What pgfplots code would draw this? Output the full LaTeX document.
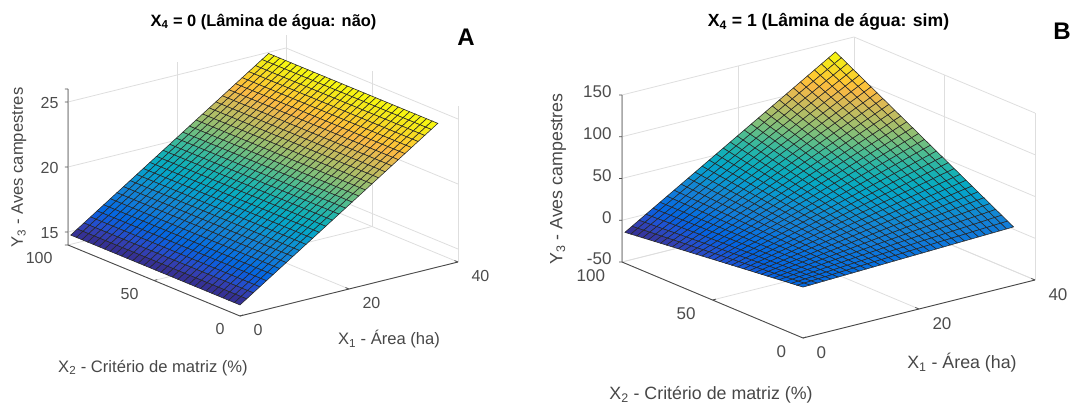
\documentclass[border=0pt]{standalone}
\usepackage{pgfplots}
\pgfplotsset{compat=1.18}
\usepackage{pgfplotstable}
\usepackage{fontspec}
\setmainfont{Liberation Sans}
\pgfplotsset{
  colormap={parula}{
    rgb=(0.2081,0.1663,0.5292) rgb=(0.2081,0.2386,0.6771) rgb=(0.1253,0.3242,0.8303) rgb=(0.0117,0.3875,0.8820)
    rgb=(0.0329,0.4430,0.8720) rgb=(0.0723,0.4887,0.8467) rgb=(0.0793,0.5200,0.8312) rgb=(0.0488,0.5772,0.8228)
    rgb=(0.0239,0.6287,0.8038) rgb=(0.0267,0.6642,0.7607) rgb=(0.0843,0.6928,0.7062) rgb=(0.1801,0.7177,0.6424)
    rgb=(0.3022,0.7376,0.5712) rgb=(0.4420,0.7481,0.5033) rgb=(0.5709,0.7485,0.4494) rgb=(0.6834,0.7435,0.4044)
    rgb=(0.7858,0.7356,0.3633) rgb=(0.8824,0.7274,0.3217) rgb=(0.9739,0.7314,0.2666) rgb=(0.9955,0.7861,0.1967)
    rgb=(0.9697,0.8481,0.1475) rgb=(0.9598,0.9218,0.0948) rgb=(0.9763,0.9831,0.0538)
  },
  panel/.style={
    colormap name=parula,
    /pgf/number format/assume math mode=true,
    xmin=0,xmax=40,ymin=0,ymax=100,
    xtick={0,20,40},ytick={0,50,100},
    grid=major,
    major grid style={black!13,line width=0.8pt},
    axis line style={draw=none},
    major tick length=0pt,
    ticklabel style={text=black!70},
    label style={text=black!72},
    clip=false,
  },
}
\pgfplotstableread{
x y za zb
0 0 14.85 11
0 3.28 14.85 10.2
0 6.56 14.85 9.4
0 9.84 14.85 8.6
0 13.12 14.85 7.8
0 16.4 14.85 7
0 19.68 14.85 6.2
0 22.96 14.85 5.4
0 26.24 14.85 4.6
0 29.52 14.85 3.8
0 32.8 14.85 3
0 36.08 14.85 2.2
0 39.36 14.85 1.4
0 42.64 14.85 0.6
0 45.92 14.85 -0.2
0 49.2 14.85 -1
0 52.48 14.85 -1.8
0 55.76 14.85 -2.6
0 59.04 14.85 -3.4
0 62.32 14.85 -4.2
0 65.6 14.85 -5
0 68.88 14.85 -5.8
0 72.16 14.85 -6.6
0 75.44 14.85 -7.4
0 78.72 14.85 -8.2
0 82 14.85 -9
0 85.28 14.85 -9.8
0 88.56 14.85 -10.6
0 91.84 14.85 -11.4
0 95.12 14.85 -12.2
0 98.4 14.85 -13
1.21 0 15.19 11.3
1.21 3.28 15.19 10.7
1.21 6.56 15.19 10
1.21 9.84 15.19 9.4
1.21 13.12 15.19 8.7
1.21 16.4 15.19 8.1
1.21 19.68 15.19 7.5
1.21 22.96 15.19 6.8
1.21 26.24 15.19 6.2
1.21 29.52 15.19 5.5
1.21 32.8 15.19 4.9
1.21 36.08 15.19 4.3
1.21 39.36 15.19 3.6
1.21 42.64 15.19 3
1.21 45.92 15.19 2.3
1.21 49.2 15.19 1.7
1.21 52.48 15.19 1.1
1.21 55.76 15.19 0.4
1.21 59.04 15.19 -0.2
1.21 62.32 15.19 -0.9
1.21 65.6 15.19 -1.5
1.21 68.88 15.19 -2.1
1.21 72.16 15.19 -2.8
1.21 75.44 15.19 -3.4
1.21 78.72 15.19 -4.1
1.21 82 15.19 -4.7
1.21 85.28 15.19 -5.3
1.21 88.56 15.19 -6
1.21 91.84 15.19 -6.6
1.21 95.12 15.19 -7.3
1.21 98.4 15.19 -7.9
2.42 0 15.53 11.6
2.42 3.28 15.53 11.1
2.42 6.56 15.53 10.6
2.42 9.84 15.53 10.2
2.42 13.12 15.53 9.7
2.42 16.4 15.53 9.2
2.42 19.68 15.53 8.7
2.42 22.96 15.53 8.2
2.42 26.24 15.53 7.8
2.42 29.52 15.53 7.3
2.42 32.8 15.53 6.8
2.42 36.08 15.53 6.3
2.42 39.36 15.53 5.8
2.42 42.64 15.53 5.4
2.42 45.92 15.53 4.9
2.42 49.2 15.53 4.4
2.42 52.48 15.53 3.9
2.42 55.76 15.53 3.4
2.42 59.04 15.53 3
2.42 62.32 15.53 2.5
2.42 65.6 15.53 2
2.42 68.88 15.53 1.5
2.42 72.16 15.53 1
2.42 75.44 15.53 0.6
2.42 78.72 15.53 0.1
2.42 82 15.53 -0.4
2.42 85.28 15.53 -0.9
2.42 88.56 15.53 -1.4
2.42 91.84 15.53 -1.8
2.42 95.12 15.53 -2.3
2.42 98.4 15.53 -2.8
3.63 0 15.87 11.9
3.63 3.28 15.87 11.6
3.63 6.56 15.87 11.3
3.63 9.84 15.87 10.9
3.63 13.12 15.87 10.6
3.63 16.4 15.87 10.3
3.63 19.68 15.87 10
3.63 22.96 15.87 9.7
3.63 26.24 15.87 9.3
3.63 29.52 15.87 9
3.63 32.8 15.87 8.7
3.63 36.08 15.87 8.4
3.63 39.36 15.87 8.1
3.63 42.64 15.87 7.7
3.63 45.92 15.87 7.4
3.63 49.2 15.87 7.1
3.63 52.48 15.87 6.8
3.63 55.76 15.87 6.5
3.63 59.04 15.87 6.1
3.63 62.32 15.87 5.8
3.63 65.6 15.87 5.5
3.63 68.88 15.87 5.2
3.63 72.16 15.87 4.9
3.63 75.44 15.87 4.5
3.63 78.72 15.87 4.2
3.63 82 15.87 3.9
3.63 85.28 15.87 3.6
3.63 88.56 15.87 3.3
3.63 91.84 15.87 2.9
3.63 95.12 15.87 2.6
3.63 98.4 15.87 2.3
4.84 0 16.21 12.2
4.84 3.28 16.21 12
4.84 6.56 16.21 11.9
4.84 9.84 16.21 11.7
4.84 13.12 16.21 11.6
4.84 16.4 16.21 11.4
4.84 19.68 16.21 11.2
4.84 22.96 16.21 11.1
4.84 26.24 16.21 10.9
4.84 29.52 16.21 10.8
4.84 32.8 16.21 10.6
4.84 36.08 16.21 10.4
4.84 39.36 16.21 10.3
4.84 42.64 16.21 10.1
4.84 45.92 16.21 10
4.84 49.2 16.21 9.8
4.84 52.48 16.21 9.6
4.84 55.76 16.21 9.5
4.84 59.04 16.21 9.3
4.84 62.32 16.21 9.2
4.84 65.6 16.21 9
4.84 68.88 16.21 8.8
4.84 72.16 16.21 8.7
4.84 75.44 16.21 8.5
4.84 78.72 16.21 8.4
4.84 82 16.21 8.2
4.84 85.28 16.21 8
4.84 88.56 16.21 7.9
4.84 91.84 16.21 7.7
4.84 95.12 16.21 7.6
4.84 98.4 16.21 7.4
6.05 0 16.55 12.5
6.05 3.28 16.55 12.5
6.05 6.56 16.55 12.5
6.05 9.84 16.55 12.5
6.05 13.12 16.55 12.5
6.05 16.4 16.55 12.5
6.05 19.68 16.55 12.5
6.05 22.96 16.55 12.5
6.05 26.24 16.55 12.5
6.05 29.52 16.55 12.5
6.05 32.8 16.55 12.5
6.05 36.08 16.55 12.5
6.05 39.36 16.55 12.5
6.05 42.64 16.55 12.5
6.05 45.92 16.55 12.5
6.05 49.2 16.55 12.5
6.05 52.48 16.55 12.5
6.05 55.76 16.55 12.5
6.05 59.04 16.55 12.5
6.05 62.32 16.55 12.5
6.05 65.6 16.55 12.5
6.05 68.88 16.55 12.5
6.05 72.16 16.55 12.5
6.05 75.44 16.55 12.5
6.05 78.72 16.55 12.5
6.05 82 16.55 12.5
6.05 85.28 16.55 12.5
6.05 88.56 16.55 12.5
6.05 91.84 16.55 12.5
6.05 95.12 16.55 12.5
6.05 98.4 16.55 12.5
7.26 0 16.89 12.8
7.26 3.28 16.89 13
7.26 6.56 16.89 13.1
7.26 9.84 16.89 13.3
7.26 13.12 16.89 13.4
7.26 16.4 16.89 13.6
7.26 19.68 16.89 13.8
7.26 22.96 16.89 13.9
7.26 26.24 16.89 14.1
7.26 29.52 16.89 14.2
7.26 32.8 16.89 14.4
7.26 36.08 16.89 14.6
7.26 39.36 16.89 14.7
7.26 42.64 16.89 14.9
7.26 45.92 16.89 15
7.26 49.2 16.89 15.2
7.26 52.48 16.89 15.4
7.26 55.76 16.89 15.5
7.26 59.04 16.89 15.7
7.26 62.32 16.89 15.8
7.26 65.6 16.89 16
7.26 68.88 16.89 16.2
7.26 72.16 16.89 16.3
7.26 75.44 16.89 16.5
7.26 78.72 16.89 16.6
7.26 82 16.89 16.8
7.26 85.28 16.89 17
7.26 88.56 16.89 17.1
7.26 91.84 16.89 17.3
7.26 95.12 16.89 17.4
7.26 98.4 16.89 17.6
8.47 0 17.23 13.1
8.47 3.28 17.23 13.4
8.47 6.56 17.23 13.7
8.47 9.84 17.23 14.1
8.47 13.12 17.23 14.4
8.47 16.4 17.23 14.7
8.47 19.68 17.23 15
8.47 22.96 17.23 15.3
8.47 26.24 17.23 15.7
8.47 29.52 17.23 16
8.47 32.8 17.23 16.3
8.47 36.08 17.23 16.6
8.47 39.36 17.23 16.9
8.47 42.64 17.23 17.3
8.47 45.92 17.23 17.6
8.47 49.2 17.23 17.9
8.47 52.48 17.23 18.2
8.47 55.76 17.23 18.5
8.47 59.04 17.23 18.9
8.47 62.32 17.23 19.2
8.47 65.6 17.23 19.5
8.47 68.88 17.23 19.8
8.47 72.16 17.23 20.1
8.47 75.44 17.23 20.5
8.47 78.72 17.23 20.8
8.47 82 17.23 21.1
8.47 85.28 17.23 21.4
8.47 88.56 17.23 21.7
8.47 91.84 17.23 22.1
8.47 95.12 17.23 22.4
8.47 98.4 17.23 22.7
9.68 0 17.57 13.4
9.68 3.28 17.57 13.9
9.68 6.56 17.57 14.4
9.68 9.84 17.57 14.8
9.68 13.12 17.57 15.3
9.68 16.4 17.57 15.8
9.68 19.68 17.57 16.3
9.68 22.96 17.57 16.8
9.68 26.24 17.57 17.2
9.68 29.52 17.57 17.7
9.68 32.8 17.57 18.2
9.68 36.08 17.57 18.7
9.68 39.36 17.57 19.2
9.68 42.64 17.57 19.6
9.68 45.92 17.57 20.1
9.68 49.2 17.57 20.6
9.68 52.48 17.57 21.1
9.68 55.76 17.57 21.6
9.68 59.04 17.57 22
9.68 62.32 17.57 22.5
9.68 65.6 17.57 23
9.68 68.88 17.57 23.5
9.68 72.16 17.57 24
9.68 75.44 17.57 24.4
9.68 78.72 17.57 24.9
9.68 82 17.57 25.4
9.68 85.28 17.57 25.9
9.68 88.56 17.57 26.4
9.68 91.84 17.57 26.8
9.68 95.12 17.57 27.3
9.68 98.4 17.57 27.8
10.89 0 17.91 13.7
10.89 3.28 17.91 14.3
10.89 6.56 17.91 15
10.89 9.84 17.91 15.6
10.89 13.12 17.91 16.3
10.89 16.4 17.91 16.9
10.89 19.68 17.91 17.5
10.89 22.96 17.91 18.2
10.89 26.24 17.91 18.8
10.89 29.52 17.91 19.5
10.89 32.8 17.91 20.1
10.89 36.08 17.91 20.7
10.89 39.36 17.91 21.4
10.89 42.64 17.91 22
10.89 45.92 17.91 22.7
10.89 49.2 17.91 23.3
10.89 52.48 17.91 23.9
10.89 55.76 17.91 24.6
10.89 59.04 17.91 25.2
10.89 62.32 17.91 25.9
10.89 65.6 17.91 26.5
10.89 68.88 17.91 27.1
10.89 72.16 17.91 27.8
10.89 75.44 17.91 28.4
10.89 78.72 17.91 29.1
10.89 82 17.91 29.7
10.89 85.28 17.91 30.3
10.89 88.56 17.91 31
10.89 91.84 17.91 31.6
10.89 95.12 17.91 32.3
10.89 98.4 17.91 32.9
12.1 0 18.25 14
12.1 3.28 18.25 14.8
12.1 6.56 18.25 15.6
12.1 9.84 18.25 16.4
12.1 13.12 18.25 17.2
12.1 16.4 18.25 18
12.1 19.68 18.25 18.8
12.1 22.96 18.25 19.6
12.1 26.24 18.25 20.4
12.1 29.52 18.25 21.2
12.1 32.8 18.25 22
12.1 36.08 18.25 22.8
12.1 39.36 18.25 23.6
12.1 42.64 18.25 24.4
12.1 45.92 18.25 25.2
12.1 49.2 18.25 26
12.1 52.48 18.25 26.8
12.1 55.76 18.25 27.6
12.1 59.04 18.25 28.4
12.1 62.32 18.25 29.2
12.1 65.6 18.25 30
12.1 68.88 18.25 30.8
12.1 72.16 18.25 31.6
12.1 75.44 18.25 32.4
12.1 78.72 18.25 33.2
12.1 82 18.25 34
12.1 85.28 18.25 34.8
12.1 88.56 18.25 35.6
12.1 91.84 18.25 36.4
12.1 95.12 18.25 37.2
12.1 98.4 18.25 38
13.31 0 18.59 14.3
13.31 3.28 18.59 15.3
13.31 6.56 18.59 16.2
13.31 9.84 18.59 17.2
13.31 13.12 18.59 18.1
13.31 16.4 18.59 19.1
13.31 19.68 18.59 20.1
13.31 22.96 18.59 21
13.31 26.24 18.59 22
13.31 29.52 18.59 22.9
13.31 32.8 18.59 23.9
13.31 36.08 18.59 24.9
13.31 39.36 18.59 25.8
13.31 42.64 18.59 26.8
13.31 45.92 18.59 27.7
13.31 49.2 18.59 28.7
13.31 52.48 18.59 29.7
13.31 55.76 18.59 30.6
13.31 59.04 18.59 31.6
13.31 62.32 18.59 32.5
13.31 65.6 18.59 33.5
13.31 68.88 18.59 34.5
13.31 72.16 18.59 35.4
13.31 75.44 18.59 36.4
13.31 78.72 18.59 37.3
13.31 82 18.59 38.3
13.31 85.28 18.59 39.3
13.31 88.56 18.59 40.2
13.31 91.84 18.59 41.2
13.31 95.12 18.59 42.1
13.31 98.4 18.59 43.1
14.52 0 18.93 14.6
14.52 3.28 18.93 15.7
14.52 6.56 18.93 16.8
14.52 9.84 18.93 18
14.52 13.12 18.93 19.1
14.52 16.4 18.93 20.2
14.52 19.68 18.93 21.3
14.52 22.96 18.93 22.4
14.52 26.24 18.93 23.6
14.52 29.52 18.93 24.7
14.52 32.8 18.93 25.8
14.52 36.08 18.93 26.9
14.52 39.36 18.93 28
14.52 42.64 18.93 29.2
14.52 45.92 18.93 30.3
14.52 49.2 18.93 31.4
14.52 52.48 18.93 32.5
14.52 55.76 18.93 33.6
14.52 59.04 18.93 34.8
14.52 62.32 18.93 35.9
14.52 65.6 18.93 37
14.52 68.88 18.93 38.1
14.52 72.16 18.93 39.2
14.52 75.44 18.93 40.4
14.52 78.72 18.93 41.5
14.52 82 18.93 42.6
14.52 85.28 18.93 43.7
14.52 88.56 18.93 44.8
14.52 91.84 18.93 46
14.52 95.12 18.93 47.1
14.52 98.4 18.93 48.2
15.73 0 19.27 14.9
15.73 3.28 19.27 16.2
15.73 6.56 19.27 17.5
15.73 9.84 19.27 18.7
15.73 13.12 19.27 20
15.73 16.4 19.27 21.3
15.73 19.68 19.27 22.6
15.73 22.96 19.27 23.9
15.73 26.24 19.27 25.1
15.73 29.52 19.27 26.4
15.73 32.8 19.27 27.7
15.73 36.08 19.27 29
15.73 39.36 19.27 30.3
15.73 42.64 19.27 31.5
15.73 45.92 19.27 32.8
15.73 49.2 19.27 34.1
15.73 52.48 19.27 35.4
15.73 55.76 19.27 36.7
15.73 59.04 19.27 37.9
15.73 62.32 19.27 39.2
15.73 65.6 19.27 40.5
15.73 68.88 19.27 41.8
15.73 72.16 19.27 43.1
15.73 75.44 19.27 44.3
15.73 78.72 19.27 45.6
15.73 82 19.27 46.9
15.73 85.28 19.27 48.2
15.73 88.56 19.27 49.5
15.73 91.84 19.27 50.7
15.73 95.12 19.27 52
15.73 98.4 19.27 53.3
16.94 0 19.61 15.2
16.94 3.28 19.61 16.6
16.94 6.56 19.61 18.1
16.94 9.84 19.61 19.5
16.94 13.12 19.61 21
16.94 16.4 19.61 22.4
16.94 19.68 19.61 23.8
16.94 22.96 19.61 25.3
16.94 26.24 19.61 26.7
16.94 29.52 19.61 28.2
16.94 32.8 19.61 29.6
16.94 36.08 19.61 31
16.94 39.36 19.61 32.5
16.94 42.64 19.61 33.9
16.94 45.92 19.61 35.4
16.94 49.2 19.61 36.8
16.94 52.48 19.61 38.2
16.94 55.76 19.61 39.7
16.94 59.04 19.61 41.1
16.94 62.32 19.61 42.6
16.94 65.6 19.61 44
16.94 68.88 19.61 45.4
16.94 72.16 19.61 46.9
16.94 75.44 19.61 48.3
16.94 78.72 19.61 49.8
16.94 82 19.61 51.2
16.94 85.28 19.61 52.6
16.94 88.56 19.61 54.1
16.94 91.84 19.61 55.5
16.94 95.12 19.61 57
16.94 98.4 19.61 58.4
18.15 0 19.95 15.5
18.15 3.28 19.95 17.1
18.15 6.56 19.95 18.7
18.15 9.84 19.95 20.3
18.15 13.12 19.95 21.9
18.15 16.4 19.95 23.5
18.15 19.68 19.95 25.1
18.15 22.96 19.95 26.7
18.15 26.24 19.95 28.3
18.15 29.52 19.95 29.9
18.15 32.8 19.95 31.5
18.15 36.08 19.95 33.1
18.15 39.36 19.95 34.7
18.15 42.64 19.95 36.3
18.15 45.92 19.95 37.9
18.15 49.2 19.95 39.5
18.15 52.48 19.95 41.1
18.15 55.76 19.95 42.7
18.15 59.04 19.95 44.3
18.15 62.32 19.95 45.9
18.15 65.6 19.95 47.5
18.15 68.88 19.95 49.1
18.15 72.16 19.95 50.7
18.15 75.44 19.95 52.3
18.15 78.72 19.95 53.9
18.15 82 19.95 55.5
18.15 85.28 19.95 57.1
18.15 88.56 19.95 58.7
18.15 91.84 19.95 60.3
18.15 95.12 19.95 61.9
18.15 98.4 19.95 63.5
19.36 0 20.29 15.8
19.36 3.28 20.29 17.6
19.36 6.56 20.29 19.3
19.36 9.84 20.29 21.1
19.36 13.12 20.29 22.8
19.36 16.4 20.29 24.6
19.36 19.68 20.29 26.4
19.36 22.96 20.29 28.1
19.36 26.24 20.29 29.9
19.36 29.52 20.29 31.6
19.36 32.8 20.29 33.4
19.36 36.08 20.29 35.2
19.36 39.36 20.29 36.9
19.36 42.64 20.29 38.7
19.36 45.92 20.29 40.4
19.36 49.2 20.29 42.2
19.36 52.48 20.29 44
19.36 55.76 20.29 45.7
19.36 59.04 20.29 47.5
19.36 62.32 20.29 49.2
19.36 65.6 20.29 51
19.36 68.88 20.29 52.8
19.36 72.16 20.29 54.5
19.36 75.44 20.29 56.3
19.36 78.72 20.29 58
19.36 82 20.29 59.8
19.36 85.28 20.29 61.6
19.36 88.56 20.29 63.3
19.36 91.84 20.29 65.1
19.36 95.12 20.29 66.8
19.36 98.4 20.29 68.6
20.57 0 20.63 16.1
20.57 3.28 20.63 18
20.57 6.56 20.63 19.9
20.57 9.84 20.63 21.9
20.57 13.12 20.63 23.8
20.57 16.4 20.63 25.7
20.57 19.68 20.63 27.6
20.57 22.96 20.63 29.5
20.57 26.24 20.63 31.5
20.57 29.52 20.63 33.4
20.57 32.8 20.63 35.3
20.57 36.08 20.63 37.2
20.57 39.36 20.63 39.1
20.57 42.64 20.63 41.1
20.57 45.92 20.63 43
20.57 49.2 20.63 44.9
20.57 52.48 20.63 46.8
20.57 55.76 20.63 48.7
20.57 59.04 20.63 50.7
20.57 62.32 20.63 52.6
20.57 65.6 20.63 54.5
20.57 68.88 20.63 56.4
20.57 72.16 20.63 58.3
20.57 75.44 20.63 60.3
20.57 78.72 20.63 62.2
20.57 82 20.63 64.1
20.57 85.28 20.63 66
20.57 88.56 20.63 67.9
20.57 91.84 20.63 69.9
20.57 95.12 20.63 71.8
20.57 98.4 20.63 73.7
21.78 0 20.97 16.4
21.78 3.28 20.97 18.5
21.78 6.56 20.97 20.6
21.78 9.84 20.97 22.6
21.78 13.12 20.97 24.7
21.78 16.4 20.97 26.8
21.78 19.68 20.97 28.9
21.78 22.96 20.97 31
21.78 26.24 20.97 33
21.78 29.52 20.97 35.1
21.78 32.8 20.97 37.2
21.78 36.08 20.97 39.3
21.78 39.36 20.97 41.4
21.78 42.64 20.97 43.4
21.78 45.92 20.97 45.5
21.78 49.2 20.97 47.6
21.78 52.48 20.97 49.7
21.78 55.76 20.97 51.8
21.78 59.04 20.97 53.8
21.78 62.32 20.97 55.9
21.78 65.6 20.97 58
21.78 68.88 20.97 60.1
21.78 72.16 20.97 62.2
21.78 75.44 20.97 64.2
21.78 78.72 20.97 66.3
21.78 82 20.97 68.4
21.78 85.28 20.97 70.5
21.78 88.56 20.97 72.6
21.78 91.84 20.97 74.6
21.78 95.12 20.97 76.7
21.78 98.4 20.97 78.8
22.99 0 21.31 16.7
22.99 3.28 21.31 18.9
22.99 6.56 21.31 21.2
22.99 9.84 21.31 23.4
22.99 13.12 21.31 25.7
22.99 16.4 21.31 27.9
22.99 19.68 21.31 30.1
22.99 22.96 21.31 32.4
22.99 26.24 21.31 34.6
22.99 29.52 21.31 36.9
22.99 32.8 21.31 39.1
22.99 36.08 21.31 41.3
22.99 39.36 21.31 43.6
22.99 42.64 21.31 45.8
22.99 45.92 21.31 48.1
22.99 49.2 21.31 50.3
22.99 52.48 21.31 52.5
22.99 55.76 21.31 54.8
22.99 59.04 21.31 57
22.99 62.32 21.31 59.3
22.99 65.6 21.31 61.5
22.99 68.88 21.31 63.7
22.99 72.16 21.31 66
22.99 75.44 21.31 68.2
22.99 78.72 21.31 70.5
22.99 82 21.31 72.7
22.99 85.28 21.31 74.9
22.99 88.56 21.31 77.2
22.99 91.84 21.31 79.4
22.99 95.12 21.31 81.7
22.99 98.4 21.31 83.9
24.2 0 21.65 17
24.2 3.28 21.65 19.4
24.2 6.56 21.65 21.8
24.2 9.84 21.65 24.2
24.2 13.12 21.65 26.6
24.2 16.4 21.65 29
24.2 19.68 21.65 31.4
24.2 22.96 21.65 33.8
24.2 26.24 21.65 36.2
24.2 29.52 21.65 38.6
24.2 32.8 21.65 41
24.2 36.08 21.65 43.4
24.2 39.36 21.65 45.8
24.2 42.64 21.65 48.2
24.2 45.92 21.65 50.6
24.2 49.2 21.65 53
24.2 52.48 21.65 55.4
24.2 55.76 21.65 57.8
24.2 59.04 21.65 60.2
24.2 62.32 21.65 62.6
24.2 65.6 21.65 65
24.2 68.88 21.65 67.4
24.2 72.16 21.65 69.8
24.2 75.44 21.65 72.2
24.2 78.72 21.65 74.6
24.2 82 21.65 77
24.2 85.28 21.65 79.4
24.2 88.56 21.65 81.8
24.2 91.84 21.65 84.2
24.2 95.12 21.65 86.6
24.2 98.4 21.65 89
25.41 0 21.99 17.3
25.41 3.28 21.99 19.9
25.41 6.56 21.99 22.4
25.41 9.84 21.99 25
25.41 13.12 21.99 27.5
25.41 16.4 21.99 30.1
25.41 19.68 21.99 32.7
25.41 22.96 21.99 35.2
25.41 26.24 21.99 37.8
25.41 29.52 21.99 40.3
25.41 32.8 21.99 42.9
25.41 36.08 21.99 45.5
25.41 39.36 21.99 48
25.41 42.64 21.99 50.6
25.41 45.92 21.99 53.1
25.41 49.2 21.99 55.7
25.41 52.48 21.99 58.3
25.41 55.76 21.99 60.8
25.41 59.04 21.99 63.4
25.41 62.32 21.99 65.9
25.41 65.6 21.99 68.5
25.41 68.88 21.99 71.1
25.41 72.16 21.99 73.6
25.41 75.44 21.99 76.2
25.41 78.72 21.99 78.7
25.41 82 21.99 81.3
25.41 85.28 21.99 83.9
25.41 88.56 21.99 86.4
25.41 91.84 21.99 89
25.41 95.12 21.99 91.5
25.41 98.4 21.99 94.1
26.62 0 22.33 17.6
26.62 3.28 22.33 20.3
26.62 6.56 22.33 23
26.62 9.84 22.33 25.8
26.62 13.12 22.33 28.5
26.62 16.4 22.33 31.2
26.62 19.68 22.33 33.9
26.62 22.96 22.33 36.6
26.62 26.24 22.33 39.4
26.62 29.52 22.33 42.1
26.62 32.8 22.33 44.8
26.62 36.08 22.33 47.5
26.62 39.36 22.33 50.2
26.62 42.64 22.33 53
26.62 45.92 22.33 55.7
26.62 49.2 22.33 58.4
26.62 52.48 22.33 61.1
26.62 55.76 22.33 63.8
26.62 59.04 22.33 66.6
26.62 62.32 22.33 69.3
26.62 65.6 22.33 72
26.62 68.88 22.33 74.7
26.62 72.16 22.33 77.4
26.62 75.44 22.33 80.2
26.62 78.72 22.33 82.9
26.62 82 22.33 85.6
26.62 85.28 22.33 88.3
26.62 88.56 22.33 91
26.62 91.84 22.33 93.8
26.62 95.12 22.33 96.5
26.62 98.4 22.33 99.2
27.83 0 22.67 17.9
27.83 3.28 22.67 20.8
27.83 6.56 22.67 23.7
27.83 9.84 22.67 26.5
27.83 13.12 22.67 29.4
27.83 16.4 22.67 32.3
27.83 19.68 22.67 35.2
27.83 22.96 22.67 38.1
27.83 26.24 22.67 40.9
27.83 29.52 22.67 43.8
27.83 32.8 22.67 46.7
27.83 36.08 22.67 49.6
27.83 39.36 22.67 52.5
27.83 42.64 22.67 55.3
27.83 45.92 22.67 58.2
27.83 49.2 22.67 61.1
27.83 52.48 22.67 64
27.83 55.76 22.67 66.9
27.83 59.04 22.67 69.7
27.83 62.32 22.67 72.6
27.83 65.6 22.67 75.5
27.83 68.88 22.67 78.4
27.83 72.16 22.67 81.3
27.83 75.44 22.67 84.1
27.83 78.72 22.67 87
27.83 82 22.67 89.9
27.83 85.28 22.67 92.8
27.83 88.56 22.67 95.7
27.83 91.84 22.67 98.5
27.83 95.12 22.67 101.4
27.83 98.4 22.67 104.3
29.04 0 23.01 18.2
29.04 3.28 23.01 21.2
29.04 6.56 23.01 24.3
29.04 9.84 23.01 27.3
29.04 13.12 23.01 30.4
29.04 16.4 23.01 33.4
29.04 19.68 23.01 36.4
29.04 22.96 23.01 39.5
29.04 26.24 23.01 42.5
29.04 29.52 23.01 45.6
29.04 32.8 23.01 48.6
29.04 36.08 23.01 51.6
29.04 39.36 23.01 54.7
29.04 42.64 23.01 57.7
29.04 45.92 23.01 60.8
29.04 49.2 23.01 63.8
29.04 52.48 23.01 66.8
29.04 55.76 23.01 69.9
29.04 59.04 23.01 72.9
29.04 62.32 23.01 76
29.04 65.6 23.01 79
29.04 68.88 23.01 82
29.04 72.16 23.01 85.1
29.04 75.44 23.01 88.1
29.04 78.72 23.01 91.2
29.04 82 23.01 94.2
29.04 85.28 23.01 97.2
29.04 88.56 23.01 100.3
29.04 91.84 23.01 103.3
29.04 95.12 23.01 106.4
29.04 98.4 23.01 109.4
30.25 0 23.35 18.5
30.25 3.28 23.35 21.7
30.25 6.56 23.35 24.9
30.25 9.84 23.35 28.1
30.25 13.12 23.35 31.3
30.25 16.4 23.35 34.5
30.25 19.68 23.35 37.7
30.25 22.96 23.35 40.9
30.25 26.24 23.35 44.1
30.25 29.52 23.35 47.3
30.25 32.8 23.35 50.5
30.25 36.08 23.35 53.7
30.25 39.36 23.35 56.9
30.25 42.64 23.35 60.1
30.25 45.92 23.35 63.3
30.25 49.2 23.35 66.5
30.25 52.48 23.35 69.7
30.25 55.76 23.35 72.9
30.25 59.04 23.35 76.1
30.25 62.32 23.35 79.3
30.25 65.6 23.35 82.5
30.25 68.88 23.35 85.7
30.25 72.16 23.35 88.9
30.25 75.44 23.35 92.1
30.25 78.72 23.35 95.3
30.25 82 23.35 98.5
30.25 85.28 23.35 101.7
30.25 88.56 23.35 104.9
30.25 91.84 23.35 108.1
30.25 95.12 23.35 111.3
30.25 98.4 23.35 114.5
31.46 0 23.69 18.8
31.46 3.28 23.69 22.2
31.46 6.56 23.69 25.5
31.46 9.84 23.69 28.9
31.46 13.12 23.69 32.2
31.46 16.4 23.69 35.6
31.46 19.68 23.69 39
31.46 22.96 23.69 42.3
31.46 26.24 23.69 45.7
31.46 29.52 23.69 49
31.46 32.8 23.69 52.4
31.46 36.08 23.69 55.8
31.46 39.36 23.69 59.1
31.46 42.64 23.69 62.5
31.46 45.92 23.69 65.8
31.46 49.2 23.69 69.2
31.46 52.48 23.69 72.6
31.46 55.76 23.69 75.9
31.46 59.04 23.69 79.3
31.46 62.32 23.69 82.6
31.46 65.6 23.69 86
31.46 68.88 23.69 89.4
31.46 72.16 23.69 92.7
31.46 75.44 23.69 96.1
31.46 78.72 23.69 99.4
31.46 82 23.69 102.8
31.46 85.28 23.69 106.2
31.46 88.56 23.69 109.5
31.46 91.84 23.69 112.9
31.46 95.12 23.69 116.2
31.46 98.4 23.69 119.6
32.67 0 24.03 19.1
32.67 3.28 24.03 22.6
32.67 6.56 24.03 26.1
32.67 9.84 24.03 29.7
32.67 13.12 24.03 33.2
32.67 16.4 24.03 36.7
32.67 19.68 24.03 40.2
32.67 22.96 24.03 43.7
32.67 26.24 24.03 47.3
32.67 29.52 24.03 50.8
32.67 32.8 24.03 54.3
32.67 36.08 24.03 57.8
32.67 39.36 24.03 61.3
32.67 42.64 24.03 64.9
32.67 45.92 24.03 68.4
32.67 49.2 24.03 71.9
32.67 52.48 24.03 75.4
32.67 55.76 24.03 78.9
32.67 59.04 24.03 82.5
32.67 62.32 24.03 86
32.67 65.6 24.03 89.5
32.67 68.88 24.03 93
32.67 72.16 24.03 96.5
32.67 75.44 24.03 100.1
32.67 78.72 24.03 103.6
32.67 82 24.03 107.1
32.67 85.28 24.03 110.6
32.67 88.56 24.03 114.1
32.67 91.84 24.03 117.7
32.67 95.12 24.03 121.2
32.67 98.4 24.03 124.7
33.88 0 24.37 19.4
33.88 3.28 24.37 23.1
33.88 6.56 24.37 26.8
33.88 9.84 24.37 30.4
33.88 13.12 24.37 34.1
33.88 16.4 24.37 37.8
33.88 19.68 24.37 41.5
33.88 22.96 24.37 45.2
33.88 26.24 24.37 48.8
33.88 29.52 24.37 52.5
33.88 32.8 24.37 56.2
33.88 36.08 24.37 59.9
33.88 39.36 24.37 63.6
33.88 42.64 24.37 67.2
33.88 45.92 24.37 70.9
33.88 49.2 24.37 74.6
33.88 52.48 24.37 78.3
33.88 55.76 24.37 82
33.88 59.04 24.37 85.6
33.88 62.32 24.37 89.3
33.88 65.6 24.37 93
33.88 68.88 24.37 96.7
33.88 72.16 24.37 100.4
33.88 75.44 24.37 104
33.88 78.72 24.37 107.7
33.88 82 24.37 111.4
33.88 85.28 24.37 115.1
33.88 88.56 24.37 118.8
33.88 91.84 24.37 122.4
33.88 95.12 24.37 126.1
33.88 98.4 24.37 129.8
35.09 0 24.71 19.7
35.09 3.28 24.71 23.5
35.09 6.56 24.71 27.4
35.09 9.84 24.71 31.2
35.09 13.12 24.71 35.1
35.09 16.4 24.71 38.9
35.09 19.68 24.71 42.7
35.09 22.96 24.71 46.6
35.09 26.24 24.71 50.4
35.09 29.52 24.71 54.3
35.09 32.8 24.71 58.1
35.09 36.08 24.71 61.9
35.09 39.36 24.71 65.8
35.09 42.64 24.71 69.6
35.09 45.92 24.71 73.5
35.09 49.2 24.71 77.3
35.09 52.48 24.71 81.1
35.09 55.76 24.71 85
35.09 59.04 24.71 88.8
35.09 62.32 24.71 92.7
35.09 65.6 24.71 96.5
35.09 68.88 24.71 100.3
35.09 72.16 24.71 104.2
35.09 75.44 24.71 108
35.09 78.72 24.71 111.9
35.09 82 24.71 115.7
35.09 85.28 24.71 119.5
35.09 88.56 24.71 123.4
35.09 91.84 24.71 127.2
35.09 95.12 24.71 131.1
35.09 98.4 24.71 134.9
36.3 0 25.05 20
36.3 3.28 25.05 24
36.3 6.56 25.05 28
36.3 9.84 25.05 32
36.3 13.12 25.05 36
36.3 16.4 25.05 40
36.3 19.68 25.05 44
36.3 22.96 25.05 48
36.3 26.24 25.05 52
36.3 29.52 25.05 56
36.3 32.8 25.05 60
36.3 36.08 25.05 64
36.3 39.36 25.05 68
36.3 42.64 25.05 72
36.3 45.92 25.05 76
36.3 49.2 25.05 80
36.3 52.48 25.05 84
36.3 55.76 25.05 88
36.3 59.04 25.05 92
36.3 62.32 25.05 96
36.3 65.6 25.05 100
36.3 68.88 25.05 104
36.3 72.16 25.05 108
36.3 75.44 25.05 112
36.3 78.72 25.05 116
36.3 82 25.05 120
36.3 85.28 25.05 124
36.3 88.56 25.05 128
36.3 91.84 25.05 132
36.3 95.12 25.05 136
36.3 98.4 25.05 140
}\grid
\begin{document}
\begin{tikzpicture}[x=1pt,y=1pt]
\path (0,0) rectangle (1078,408);
\begin{axis}[panel,
  at={(68pt,92pt)},anchor=south west,
  x={(5.45pt,1.35pt)},y={(-1.72pt,0.71pt)},z={(0pt,13pt)},
  zmin=14,zmax=26,ztick={15,20,25},
  ticklabel style={font=\fontsize{16}{18}\selectfont},
  label style={font=\fontsize{16.6}{19}\selectfont},
  title style={font=\fontsize{16.4}{19}\bfseries\selectfont},
  xlabel={X\textsubscript{1} - Área (ha)},
  ylabel={X\textsubscript{2} - Critério de matriz (\%)},
  zlabel={Y\textsubscript{3} - Aves campestres},
  title={X\textsubscript{4} = 0 (Lâmina de água: não)},
  xticklabel style={anchor=west,xshift=10pt,yshift=-14pt},
  yticklabel style={anchor=east,xshift=-12pt,yshift=-13pt},
  zticklabel style={anchor=east,xshift=-6pt,yshift=-1pt},
  xlabel style={at={(rel axis cs:0,0,0)},anchor=center,xshift=149pt,yshift=-23pt},
  ylabel style={at={(rel axis cs:0,0,0)},anchor=center,xshift=-87pt,yshift=-52pt},
  zlabel style={at={(rel axis cs:0,0,0)},anchor=center,xshift=148.5pt,yshift=221pt},
  title style={at={(rel axis cs:0,0,0)},anchor=center,xshift=23.5pt,yshift=288pt},
]
\addplot3[surf,shader=faceted,faceted color=black!85,line width=0.55pt,mesh/cols=31] table[x=x,y=y,z=za] {\grid};
\draw[black!70,line width=0.9pt] (axis cs:0,0,14)--(axis cs:40,0,14) (axis cs:0,0,14)--(axis cs:0,100,14)--(axis cs:0,100,26);
\draw[black!70,line width=0.8pt] (axis cs:0,100,15)--++(-3pt,0pt) (axis cs:0,100,20)--++(-3pt,0pt) (axis cs:0,100,25)--++(-3pt,0pt) (axis cs:0,100,26)--++(-3pt,0pt)
 (axis cs:20,0,14)--(axis cs:20,2,14) (axis cs:40,0,14)--(axis cs:40,2,14) (axis cs:0,50,14)--(axis cs:0.6,50,14) (axis cs:0,100,14)--++(-3pt,0pt) (axis cs:0,0,14)--++(3pt,1pt);
\end{axis}
\begin{axis}[panel,
  at={(622pt,70pt)},anchor=south west,
  x={(5.8pt,1.45pt)},y={(-1.81pt,0.76pt)},z={(0pt,0.835pt)},
  zmin=-50,zmax=150,ztick={-50,0,50,100,150},
  ticklabel style={font=\fontsize{17}{19}\selectfont},
  label style={font=\fontsize{17.8}{20}\selectfont},
  title style={font=\fontsize{17.6}{20}\bfseries\selectfont},
  xlabel={X\textsubscript{1} - Área (ha)},
  ylabel={X\textsubscript{2} - Critério de matriz (\%)},
  zlabel={Y\textsubscript{3} - Aves campestres},
  title={X\textsubscript{4} = 1 (Lâmina de água: sim)},
  xticklabel style={anchor=west,xshift=10pt,yshift=-15pt},
  yticklabel style={anchor=east,xshift=-13.5pt,yshift=-14pt},
  zticklabel style={anchor=east,xshift=-7pt,yshift=3pt},
  xlabel style={at={(rel axis cs:0,0,0)},anchor=center,xshift=159pt,yshift=-25pt},
  ylabel style={at={(rel axis cs:0,0,0)},anchor=center,xshift=-92pt,yshift=-57pt},
  zlabel style={at={(rel axis cs:0,0,0)},anchor=center,xshift=159pt,yshift=245pt},
  title style={at={(rel axis cs:0,0,0)},anchor=center,xshift=25.5pt,yshift=310pt},
]
\addplot3[surf,shader=faceted,faceted color=black!85,line width=0.55pt,mesh/cols=31] table[x=x,y=y,z=zb] {\grid};
\draw[black!70,line width=0.9pt] (axis cs:0,0,-50)--(axis cs:40,0,-50) (axis cs:0,0,-50)--(axis cs:0,100,-50)--(axis cs:0,100,150);
\draw[black!70,line width=0.8pt] (axis cs:0,100,-50)--++(-3pt,0pt) (axis cs:0,100,0)--++(-3pt,0pt) (axis cs:0,100,50)--++(-3pt,0pt) (axis cs:0,100,100)--++(-3pt,0pt) (axis cs:0,100,150)--++(-3pt,0pt)
 (axis cs:20,0,-50)--(axis cs:20,2,-50) (axis cs:40,0,-50)--(axis cs:40,2,-50) (axis cs:0,50,-50)--(axis cs:0.6,50,-50) (axis cs:0,0,-50)--++(3pt,1pt);
\end{axis}
\node[font=\fontsize{24}{26}\bfseries\selectfont] at (466,371) {A};
\node[font=\fontsize{24}{26}\bfseries\selectfont] at (1062,377) {B};
\end{tikzpicture}
\end{document}
